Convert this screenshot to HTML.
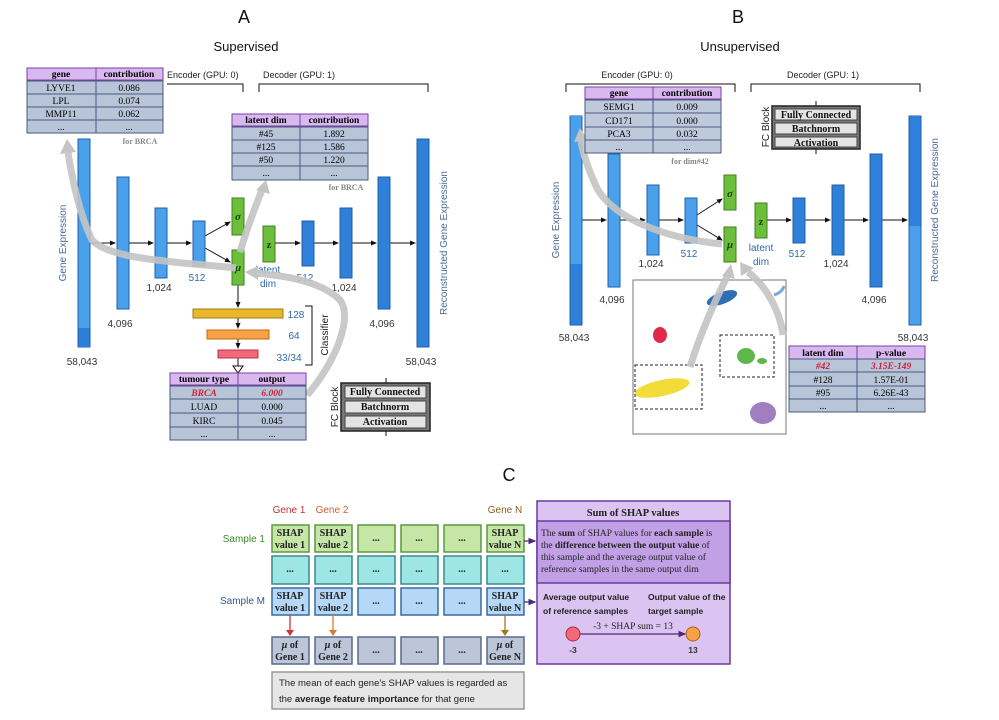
<!DOCTYPE html>
<html><head><meta charset="utf-8"><style>
html,body{margin:0;padding:0;background:#fff;}
svg{display:block;}
.s{font-family:"Liberation Sans",sans-serif;}
.r{font-family:"Liberation Serif",serif;}
</style></head><body>
<svg width="999" height="720" viewBox="0 0 999 720" xmlns="http://www.w3.org/2000/svg">
<defs>
<marker id="ah" markerWidth="6" markerHeight="6" refX="5" refY="3" orient="auto"><path d="M0,0.5 L6,3 L0,5.5 z" fill="#111"/></marker>
<marker id="ahp" markerWidth="6" markerHeight="6" refX="5" refY="3" orient="auto"><path d="M0,0.5 L6,3 L0,5.5 z" fill="#4b2a7a"/></marker>
</defs>
<g class="s" fill="#111">
<text x="244" y="23" font-size="18" text-anchor="middle">A</text>
<text x="246" y="51" font-size="13" text-anchor="middle">Supervised</text>
<text x="738" y="23" font-size="18" text-anchor="middle">B</text>
<text x="740" y="51" font-size="13" text-anchor="middle">Unsupervised</text>
<text x="509" y="481" font-size="18" text-anchor="middle">C</text>
</g>

<!-- ===== PANEL A ===== -->
<g class="s" font-size="9" fill="#222">
<text x="167" y="78">Encoder (GPU: 0)</text>
<text x="263" y="78">Decoder (GPU: 1)</text>
</g>
<path d="M167,84 H243 V92 M259,92 V84 H428 V92" fill="none" stroke="#111" stroke-width="1"/>
<g stroke="#111" stroke-width="1" marker-end="url(#ah)">
<line x1="90" y1="243" x2="115" y2="243"/><line x1="129" y1="243" x2="153" y2="243"/>
<line x1="167" y1="243" x2="191" y2="243"/>
<line x1="205" y1="236" x2="230" y2="222"/><line x1="205" y1="248" x2="230" y2="262"/>
<line x1="275" y1="243" x2="300" y2="243"/><line x1="314" y1="243" x2="338" y2="243"/>
<line x1="352" y1="243" x2="376" y2="243"/><line x1="390" y1="243" x2="415" y2="243"/>
<line x1="238" y1="285" x2="238" y2="307"/><line x1="238" y1="318" x2="238" y2="328"/><line x1="238" y1="339" x2="238" y2="348"/>
</g>
<path d="M238,358 V368" stroke="#111"/><path d="M233,366 L243,366 L238,373 z" fill="#fff" stroke="#111"/>
<g stroke="#1f5fa8" stroke-width="1">
<rect x="78" y="139" width="12" height="208" fill="#4aa0ea"/><rect x="78.5" y="328" width="11" height="19" fill="#2d7ed6" stroke="none"/>
<rect x="117" y="177" width="12" height="132" fill="#4aa0ea"/>
<rect x="155" y="208" width="12" height="70" fill="#4aa0ea"/>
<rect x="193" y="221" width="12" height="45" fill="#4aa0ea"/>
<rect x="302" y="221" width="12" height="45" fill="#2f80d8"/>
<rect x="340" y="208" width="12" height="70" fill="#2f80d8"/>
<rect x="378" y="177" width="12" height="132" fill="#2f80d8"/>
<rect x="417" y="139" width="12" height="208" fill="#2f80d8"/>
</g>
<g stroke="#3f7f1f" fill="#6cbf3a">
<rect x="232" y="198" width="12" height="37"/><rect x="232" y="250" width="12" height="35"/><rect x="263" y="226" width="12" height="36"/>
</g>
<g class="r" font-size="11" font-weight="bold" fill="#1f3f10" text-anchor="middle">
<text x="238" y="220" font-style="italic">σ</text><text x="238" y="271" font-style="italic">μ</text><text x="269" y="248">z</text>
</g>
<rect x="193" y="309" width="90" height="9" fill="#e8b82a" stroke="#a07a10"/>
<rect x="207" y="330" width="62" height="9" fill="#f7a246" stroke="#c06a10"/>
<rect x="218" y="350" width="40" height="8" fill="#f06a7a" stroke="#c0304a"/>
<path d="M305,306 H312 V365 H305" fill="none" stroke="#111"/>
<g class="s" font-size="10" fill="#2a6ab0" text-anchor="middle">
<text x="296" y="318">128</text><text x="294" y="339">64</text><text x="289" y="361">33/34</text>
<text x="197" y="281">512</text><text x="305" y="281">512</text>
<text x="268" y="273">latent</text><text x="268" y="287">dim</text>
</g>
<text class="s" font-size="10" fill="#222" transform="translate(328,335) rotate(-90)" text-anchor="middle">Classifier</text>
<g class="s" font-size="10" fill="#333" text-anchor="middle">
<text x="82" y="365">58,043</text><text x="120" y="327">4,096</text><text x="159" y="291">1,024</text>
<text x="344" y="291">1,024</text><text x="382" y="327">4,096</text><text x="421" y="365">58,043</text>
</g>
<text class="s" font-size="10" fill="#4a6a9a" transform="translate(66,243) rotate(-90)" text-anchor="middle">Gene Expression</text>
<text class="s" font-size="10" fill="#4a6a9a" transform="translate(447,243) rotate(-90)" text-anchor="middle">Reconstructed Gene Expression</text>

<g fill="none" stroke="#c4c4c4" stroke-width="7" opacity="0.9">
<path d="M236,268 C180,262 110,260 92,240 C80,215 72,180 68,152"/>
<path d="M240,252 C248,225 256,205 262,190"/>
<path d="M307,395 C330,370 355,320 340,300 C320,280 280,275 252,273"/>
</g>
<g fill="#c4c4c4"><path d="M60,154 L67,139 L76,152 z"/><path d="M256,190 L266,180 L270,194 z"/><path d="M258,266 L245,272 L258,280 z"/></g>

<g class="r" font-size="9.5" text-anchor="middle">
<rect x="27" y="68" width="136" height="12" fill="#d9b8f0" stroke="#7a3fa5"/>
<line x1="96" y1="68" x2="96" y2="80" stroke="#7a3fa5"/>
<text x="61" y="77" font-weight="bold">gene</text><text x="129" y="77" font-weight="bold">contribution</text>
<g fill="#b8c4d8" stroke="#4a5a80"><rect x="27" y="81" width="69" height="13"/><rect x="96" y="81" width="67" height="13"/><rect x="27" y="94" width="69" height="13"/><rect x="96" y="94" width="67" height="13"/><rect x="27" y="107" width="69" height="13"/><rect x="96" y="107" width="67" height="13"/><rect x="27" y="120" width="69" height="13"/><rect x="96" y="120" width="67" height="13"/></g>
<text x="61" y="91">LYVE1</text><text x="129" y="91">0.086</text>
<text x="61" y="104">LPL</text><text x="129" y="104">0.074</text>
<text x="61" y="117">MMP11</text><text x="129" y="117">0.062</text>
<text x="61" y="130">...</text><text x="129" y="130">...</text>
<text x="140" y="144" font-size="8" fill="#888" font-weight="bold">for BRCA</text>
</g>
<g class="r" font-size="9.5" text-anchor="middle">
<rect x="232" y="114" width="136" height="12" fill="#d9b8f0" stroke="#7a3fa5"/>
<line x1="300" y1="114" x2="300" y2="126" stroke="#7a3fa5"/>
<text x="266" y="123" font-weight="bold">latent dim</text><text x="334" y="123" font-weight="bold">contribution</text>
<g fill="#b8c4d8" stroke="#4a5a80"><rect x="232" y="127" width="68" height="13"/><rect x="300" y="127" width="68" height="13"/><rect x="232" y="140" width="68" height="13"/><rect x="300" y="140" width="68" height="13"/><rect x="232" y="153" width="68" height="13"/><rect x="300" y="153" width="68" height="13"/><rect x="232" y="166" width="68" height="14"/><rect x="300" y="166" width="68" height="14"/></g>
<text x="266" y="137">#45</text><text x="334" y="137">1.892</text>
<text x="266" y="150">#125</text><text x="334" y="150">1.586</text>
<text x="266" y="163">#50</text><text x="334" y="163">1.220</text>
<text x="266" y="176">...</text><text x="334" y="176">...</text>
<text x="346" y="190" font-size="8" fill="#888" font-weight="bold">for BRCA</text>
</g>
<g class="r" font-size="9.5" text-anchor="middle">
<rect x="170" y="373" width="136" height="12" fill="#d9b8f0" stroke="#7a3fa5"/>
<line x1="238" y1="373" x2="238" y2="385" stroke="#7a3fa5"/>
<text x="204" y="382" font-weight="bold">tumour type</text><text x="272" y="382" font-weight="bold">output</text>
<g fill="#b8c4d8" stroke="#4a5a80"><rect x="170" y="386" width="68" height="13"/><rect x="238" y="386" width="68" height="13"/><rect x="170" y="399" width="68" height="14"/><rect x="238" y="399" width="68" height="14"/><rect x="170" y="413" width="68" height="14"/><rect x="238" y="413" width="68" height="14"/><rect x="170" y="427" width="68" height="13"/><rect x="238" y="427" width="68" height="13"/></g>
<text x="204" y="396" fill="#d0203a" font-style="italic" font-weight="bold">BRCA</text><text x="272" y="396" fill="#d0203a" font-style="italic" font-weight="bold">6.000</text>
<text x="204" y="410">LUAD</text><text x="272" y="410">0.000</text>
<text x="204" y="424">KIRC</text><text x="272" y="424">0.045</text>
<text x="204" y="437">...</text><text x="272" y="437">...</text>
</g>
<g>
<line x1="386" y1="378" x2="386" y2="383" stroke="#111"/><line x1="386" y1="431" x2="386" y2="436" stroke="#111"/>
<rect x="341" y="383" width="89" height="48" fill="#777" stroke="#222" stroke-width="1.5"/>
<g fill="#e4e4e4" stroke="#444"><rect x="345" y="386" width="81" height="12"/><rect x="345" y="401" width="81" height="12"/><rect x="345" y="416" width="81" height="12"/></g>
<g class="r" font-size="10" text-anchor="middle" fill="#111" font-weight="bold"><text x="385" y="395">Fully Connected</text><text x="385" y="410">Batchnorm</text><text x="385" y="425">Activation</text></g>
<text class="s" font-size="10" fill="#222" transform="translate(338,407) rotate(-90)" text-anchor="middle">FC Block</text>
</g>

<!-- ===== PANEL B ===== -->
<g class="s" font-size="9" fill="#222" text-anchor="middle">
<text x="637" y="78">Encoder (GPU: 0)</text><text x="823" y="78">Decoder (GPU: 1)</text>
</g>
<path d="M566,92 V84 H735 V92 M751,92 V84 H920 V92" fill="none" stroke="#111"/>
<g stroke="#111" stroke-width="1" marker-end="url(#ah)">
<line x1="582" y1="220" x2="606" y2="220"/><line x1="620" y1="220" x2="645" y2="220"/>
<line x1="659" y1="220" x2="683" y2="220"/>
<line x1="697" y1="215" x2="722" y2="199"/><line x1="697" y1="225" x2="722" y2="240"/>
<line x1="767" y1="220" x2="791" y2="220"/><line x1="805" y1="220" x2="830" y2="220"/>
<line x1="844" y1="220" x2="868" y2="220"/><line x1="882" y1="220" x2="907" y2="220"/>
</g>
<g stroke="#1f5fa8">
<rect x="570" y="116" width="12" height="209" fill="#2f80d8"/><rect x="570.5" y="116" width="11" height="148" fill="#4aa0ea" stroke="none"/>
<rect x="608" y="154" width="12" height="133" fill="#4aa0ea"/>
<rect x="647" y="185" width="12" height="70" fill="#4aa0ea"/>
<rect x="685" y="198" width="12" height="45" fill="#4aa0ea"/>
<rect x="793" y="198" width="12" height="45" fill="#2f80d8"/>
<rect x="832" y="185" width="12" height="70" fill="#2f80d8"/>
<rect x="870" y="154" width="12" height="133" fill="#2f80d8"/>
<rect x="909" y="116" width="12" height="209" fill="#4aa0ea"/><rect x="909.5" y="116" width="11" height="110" fill="#2f80d8" stroke="none"/>
</g>
<g stroke="#3f7f1f" fill="#6cbf3a">
<rect x="724" y="175" width="12" height="35"/><rect x="724" y="227" width="12" height="35"/><rect x="755" y="203" width="12" height="35"/>
</g>
<g class="r" font-size="11" font-weight="bold" fill="#1f3f10" text-anchor="middle">
<text x="730" y="197" font-style="italic">σ</text><text x="730" y="248" font-style="italic">μ</text><text x="761" y="225">z</text>
</g>
<g class="s" font-size="10" fill="#2a6ab0" text-anchor="middle">
<text x="689" y="257">512</text><text x="797" y="257">512</text><text x="761" y="251">latent</text><text x="761" y="265">dim</text>
</g>
<g class="s" font-size="10" fill="#333" text-anchor="middle">
<text x="574" y="341">58,043</text><text x="612" y="303">4,096</text><text x="651" y="267">1,024</text>
<text x="836" y="267">1,024</text><text x="874" y="303">4,096</text><text x="913" y="341">58,043</text>
</g>
<text class="s" font-size="10" fill="#4a6a9a" transform="translate(559,220) rotate(-90)" text-anchor="middle">Gene Expression</text>
<text class="s" font-size="10" fill="#4a6a9a" transform="translate(938,210) rotate(-90)" text-anchor="middle">Reconstructed Gene Expression</text>
<rect x="633" y="280" width="153" height="154" fill="#fff" stroke="#777" stroke-width="1"/>
<ellipse cx="722" cy="298" rx="16" ry="6" fill="#2f6eb5" transform="rotate(-20 722 298)"/>
<ellipse cx="660" cy="335" rx="7" ry="8" fill="#e0284a"/>
<ellipse cx="662" cy="388" rx="28" ry="8" fill="#f2dc3a" transform="rotate(-12 662 388)"/>
<ellipse cx="746" cy="356" rx="9" ry="8" fill="#5cb84a"/><ellipse cx="762" cy="361" rx="5" ry="3" fill="#5cb84a"/>
<ellipse cx="763" cy="413" rx="13" ry="11" fill="#a07ec0"/>
<path d="M774,295 C780,293 783,290 784,286" stroke="#7aaad8" stroke-width="3" fill="none"/>
<rect x="635" y="365" width="67" height="44" fill="none" stroke="#222" stroke-dasharray="3,2"/>
<rect x="720" y="335" width="54" height="42" fill="none" stroke="#222" stroke-dasharray="3,2"/>
<g fill="none" stroke="#c4c4c4" stroke-width="7" opacity="0.9">
<path d="M722,244 C680,240 620,225 598,190 C588,170 582,150 581,140"/>
<path d="M690,367 C700,335 715,300 728,275"/>
<path d="M783,335 C780,310 765,285 748,272"/>
</g>
<g fill="#c4c4c4"><path d="M574,142 L580,128 L588,140 z"/><path d="M722,276 L731,264 L735,279 z"/><path d="M741,276 L740,262 L754,268 z"/></g>
<g class="r" font-size="9.5" text-anchor="middle">
<rect x="585" y="87" width="136" height="12" fill="#d9b8f0" stroke="#7a3fa5"/>
<line x1="653" y1="87" x2="653" y2="99" stroke="#7a3fa5"/>
<text x="619" y="96" font-weight="bold">gene</text><text x="687" y="96" font-weight="bold">contribution</text>
<g fill="#b8c4d8" stroke="#4a5a80" fill-opacity="0.92"><rect x="585" y="100" width="68" height="13"/><rect x="653" y="100" width="68" height="13"/><rect x="585" y="113" width="68" height="14"/><rect x="653" y="113" width="68" height="14"/><rect x="585" y="127" width="68" height="13"/><rect x="653" y="127" width="68" height="13"/><rect x="585" y="140" width="68" height="13"/><rect x="653" y="140" width="68" height="13"/></g>
<text x="619" y="110">SEMG1</text><text x="687" y="110">0.009</text>
<text x="619" y="124">CD171</text><text x="687" y="124">0.000</text>
<text x="619" y="137">PCA3</text><text x="687" y="137">0.032</text>
<text x="619" y="150">...</text><text x="687" y="150">...</text>
<text x="690" y="164" font-size="8" fill="#888" font-weight="bold">for dim#42</text>
</g>
<g>
<line x1="816" y1="101" x2="816" y2="106" stroke="#111"/><line x1="816" y1="149" x2="816" y2="154" stroke="#111"/>
<rect x="772" y="106" width="88" height="43" fill="#777" stroke="#222" stroke-width="1.5"/>
<g fill="#e4e4e4" stroke="#444"><rect x="775" y="109" width="82" height="11"/><rect x="775" y="123" width="82" height="11"/><rect x="775" y="137" width="82" height="10"/></g>
<g class="r" font-size="10" text-anchor="middle" fill="#111" font-weight="bold"><text x="816" y="118">Fully Connected</text><text x="816" y="132">Batchnorm</text><text x="816" y="146">Activation</text></g>
<text class="s" font-size="10" fill="#222" transform="translate(769,127) rotate(-90)" text-anchor="middle">FC Block</text>
</g>
<g class="r" font-size="9.5" text-anchor="middle">
<rect x="789" y="346" width="136" height="13" fill="#d9b8f0" stroke="#7a3fa5"/>
<line x1="857" y1="346" x2="857" y2="359" stroke="#7a3fa5"/>
<text x="823" y="356" font-weight="bold">latent dim</text><text x="891" y="356" font-weight="bold">p-value</text>
<g fill="#b8c4d8" stroke="#4a5a80"><rect x="789" y="359" width="68" height="13"/><rect x="857" y="359" width="68" height="13"/><rect x="789" y="372" width="68" height="14"/><rect x="857" y="372" width="68" height="14"/><rect x="789" y="386" width="68" height="13"/><rect x="857" y="386" width="68" height="13"/><rect x="789" y="399" width="68" height="13"/><rect x="857" y="399" width="68" height="13"/></g>
<text x="823" y="369" fill="#d0203a" font-style="italic" font-weight="bold">#42</text><text x="891" y="369" fill="#d0203a" font-style="italic" font-weight="bold">3.15E-149</text>
<text x="823" y="383">#128</text><text x="891" y="383">1.57E-01</text>
<text x="823" y="396">#95</text><text x="891" y="396">6.26E-43</text>
<text x="823" y="409">...</text><text x="891" y="409">...</text>
</g>

<!-- ===== PANEL C ===== -->
<g class="s" font-size="10">
<text x="289" y="513" fill="#c0303a" text-anchor="middle">Gene 1</text>
<text x="332" y="513" fill="#d0602a" text-anchor="middle">Gene 2</text>
<text x="505" y="513" fill="#8a6020" text-anchor="middle">Gene N</text>
<text x="265" y="542" fill="#3a8a2a" text-anchor="end">Sample 1</text>
<text x="265" y="604" fill="#2a5a9a" text-anchor="end">Sample M</text>
</g>
<g stroke-width="1.5">
<g fill="#c6e6a8" stroke="#5a9a3a"><rect x="272" y="525" width="37" height="27"/><rect x="315" y="525" width="37" height="27"/><rect x="358" y="525" width="37" height="27"/><rect x="401" y="525" width="37" height="27"/><rect x="444" y="525" width="37" height="27"/><rect x="487" y="525" width="37" height="27"/></g>
<g fill="#9ee6e6" stroke="#3a8a8a"><rect x="272" y="556" width="37" height="28"/><rect x="315" y="556" width="37" height="28"/><rect x="358" y="556" width="37" height="28"/><rect x="401" y="556" width="37" height="28"/><rect x="444" y="556" width="37" height="28"/><rect x="487" y="556" width="37" height="28"/></g>
<g fill="#b4d8f6" stroke="#3a6aa0"><rect x="272" y="588" width="37" height="27"/><rect x="315" y="588" width="37" height="27"/><rect x="358" y="588" width="37" height="27"/><rect x="401" y="588" width="37" height="27"/><rect x="444" y="588" width="37" height="27"/><rect x="487" y="588" width="37" height="27"/></g>
<g fill="#bcc6d8" stroke="#5a6a8a"><rect x="272" y="637" width="37" height="27"/><rect x="315" y="637" width="37" height="27"/><rect x="358" y="637" width="37" height="27"/><rect x="401" y="637" width="37" height="27"/><rect x="444" y="637" width="37" height="27"/><rect x="487" y="637" width="37" height="27"/></g>
</g>
<g class="r" font-size="10" font-weight="bold" text-anchor="middle" fill="#222">
<text x="290" y="536">SHAP</text><text x="290" y="548">value 1</text>
<text x="333" y="536">SHAP</text><text x="333" y="548">value 2</text>
<text x="376" y="541">...</text><text x="419" y="541">...</text><text x="462" y="541">...</text>
<text x="505" y="536">SHAP</text><text x="505" y="548">value N</text>
<text x="290" y="572">...</text><text x="333" y="572">...</text><text x="376" y="572">...</text><text x="419" y="572">...</text><text x="462" y="572">...</text><text x="505" y="572">...</text>
<text x="290" y="599">SHAP</text><text x="290" y="611">value 1</text>
<text x="333" y="599">SHAP</text><text x="333" y="611">value 2</text>
<text x="376" y="604">...</text><text x="419" y="604">...</text><text x="462" y="604">...</text>
<text x="505" y="599">SHAP</text><text x="505" y="611">value N</text>
<text x="290" y="648"><tspan font-style="italic">μ</tspan> of</text><text x="290" y="660">Gene 1</text>
<text x="333" y="648"><tspan font-style="italic">μ</tspan> of</text><text x="333" y="660">Gene 2</text>
<text x="376" y="653">...</text><text x="419" y="653">...</text><text x="462" y="653">...</text>
<text x="505" y="648"><tspan font-style="italic">μ</tspan> of</text><text x="505" y="660">Gene N</text>
</g>
<g stroke-width="1.3">
<line x1="290" y1="615" x2="290" y2="633" stroke="#d0303a"/><path d="M286,630 L294,630 L290,636 z" fill="#d0303a"/>
<line x1="333" y1="615" x2="333" y2="633" stroke="#e07a2a"/><path d="M329,630 L337,630 L333,636 z" fill="#e07a2a"/>
<line x1="505" y1="615" x2="505" y2="633" stroke="#a07a20"/><path d="M501,630 L509,630 L505,636 z" fill="#a07a20"/>
<line x1="524" y1="541" x2="535" y2="541" stroke="#4b2a7a" marker-end="url(#ahp)"/>
<line x1="524" y1="602" x2="535" y2="602" stroke="#4b2a7a" marker-end="url(#ahp)"/>
</g>
<rect x="272" y="672" width="252" height="37" fill="#e6e6e6" stroke="#999" stroke-width="1.5"/>
<g class="s" font-size="9.5" fill="#222"><text x="279" y="686">The mean of each gene's SHAP values is regarded as</text>
<text x="279" y="702">the <tspan font-weight="bold">average feature importance</tspan> for that gene</text></g>
<rect x="537" y="501" width="193" height="163" fill="#dcc4f2" stroke="#6a3aa0" stroke-width="1.5"/>
<rect x="537" y="521" width="193" height="62" fill="#c2a0e6" stroke="#6a3aa0" stroke-width="1.5"/>
<g class="r" font-size="9.5" fill="#222">
<text x="633" y="516" font-size="10.5" font-weight="bold" text-anchor="middle">Sum of SHAP values</text>
<text x="541" y="536">The <tspan font-weight="bold">sum</tspan> of SHAP values for <tspan font-weight="bold">each sample</tspan> is</text>
<text x="541" y="548">the <tspan font-weight="bold">difference between the output value</tspan> of</text>
<text x="541" y="560">this sample and the average output value of</text>
<text x="541" y="572">reference samples in the same output dim</text>
</g>
<g class="s" font-size="8.5" font-weight="bold" fill="#222">
<text x="543" y="600">Average output value</text><text x="543" y="614">of reference samples</text>
<text x="648" y="600">Output value of the</text><text x="648" y="614">target sample</text>
</g>
<line x1="580" y1="634" x2="685" y2="634" stroke="#4b2a7a" stroke-width="1.3" marker-end="url(#ahp)"/>
<circle cx="573" cy="634" r="7" fill="#f06a7a" stroke="#b02a3a"/>
<circle cx="693" cy="634" r="7" fill="#f7a246" stroke="#b0601a"/>
<text class="r" x="633" y="629" font-size="9.5" text-anchor="middle" fill="#222">-3 + SHAP sum = 13</text>
<g class="s" font-size="8.5" font-weight="bold" fill="#333" text-anchor="middle"><text x="573" y="653">-3</text><text x="693" y="653">13</text></g>
</svg>
</body></html>
